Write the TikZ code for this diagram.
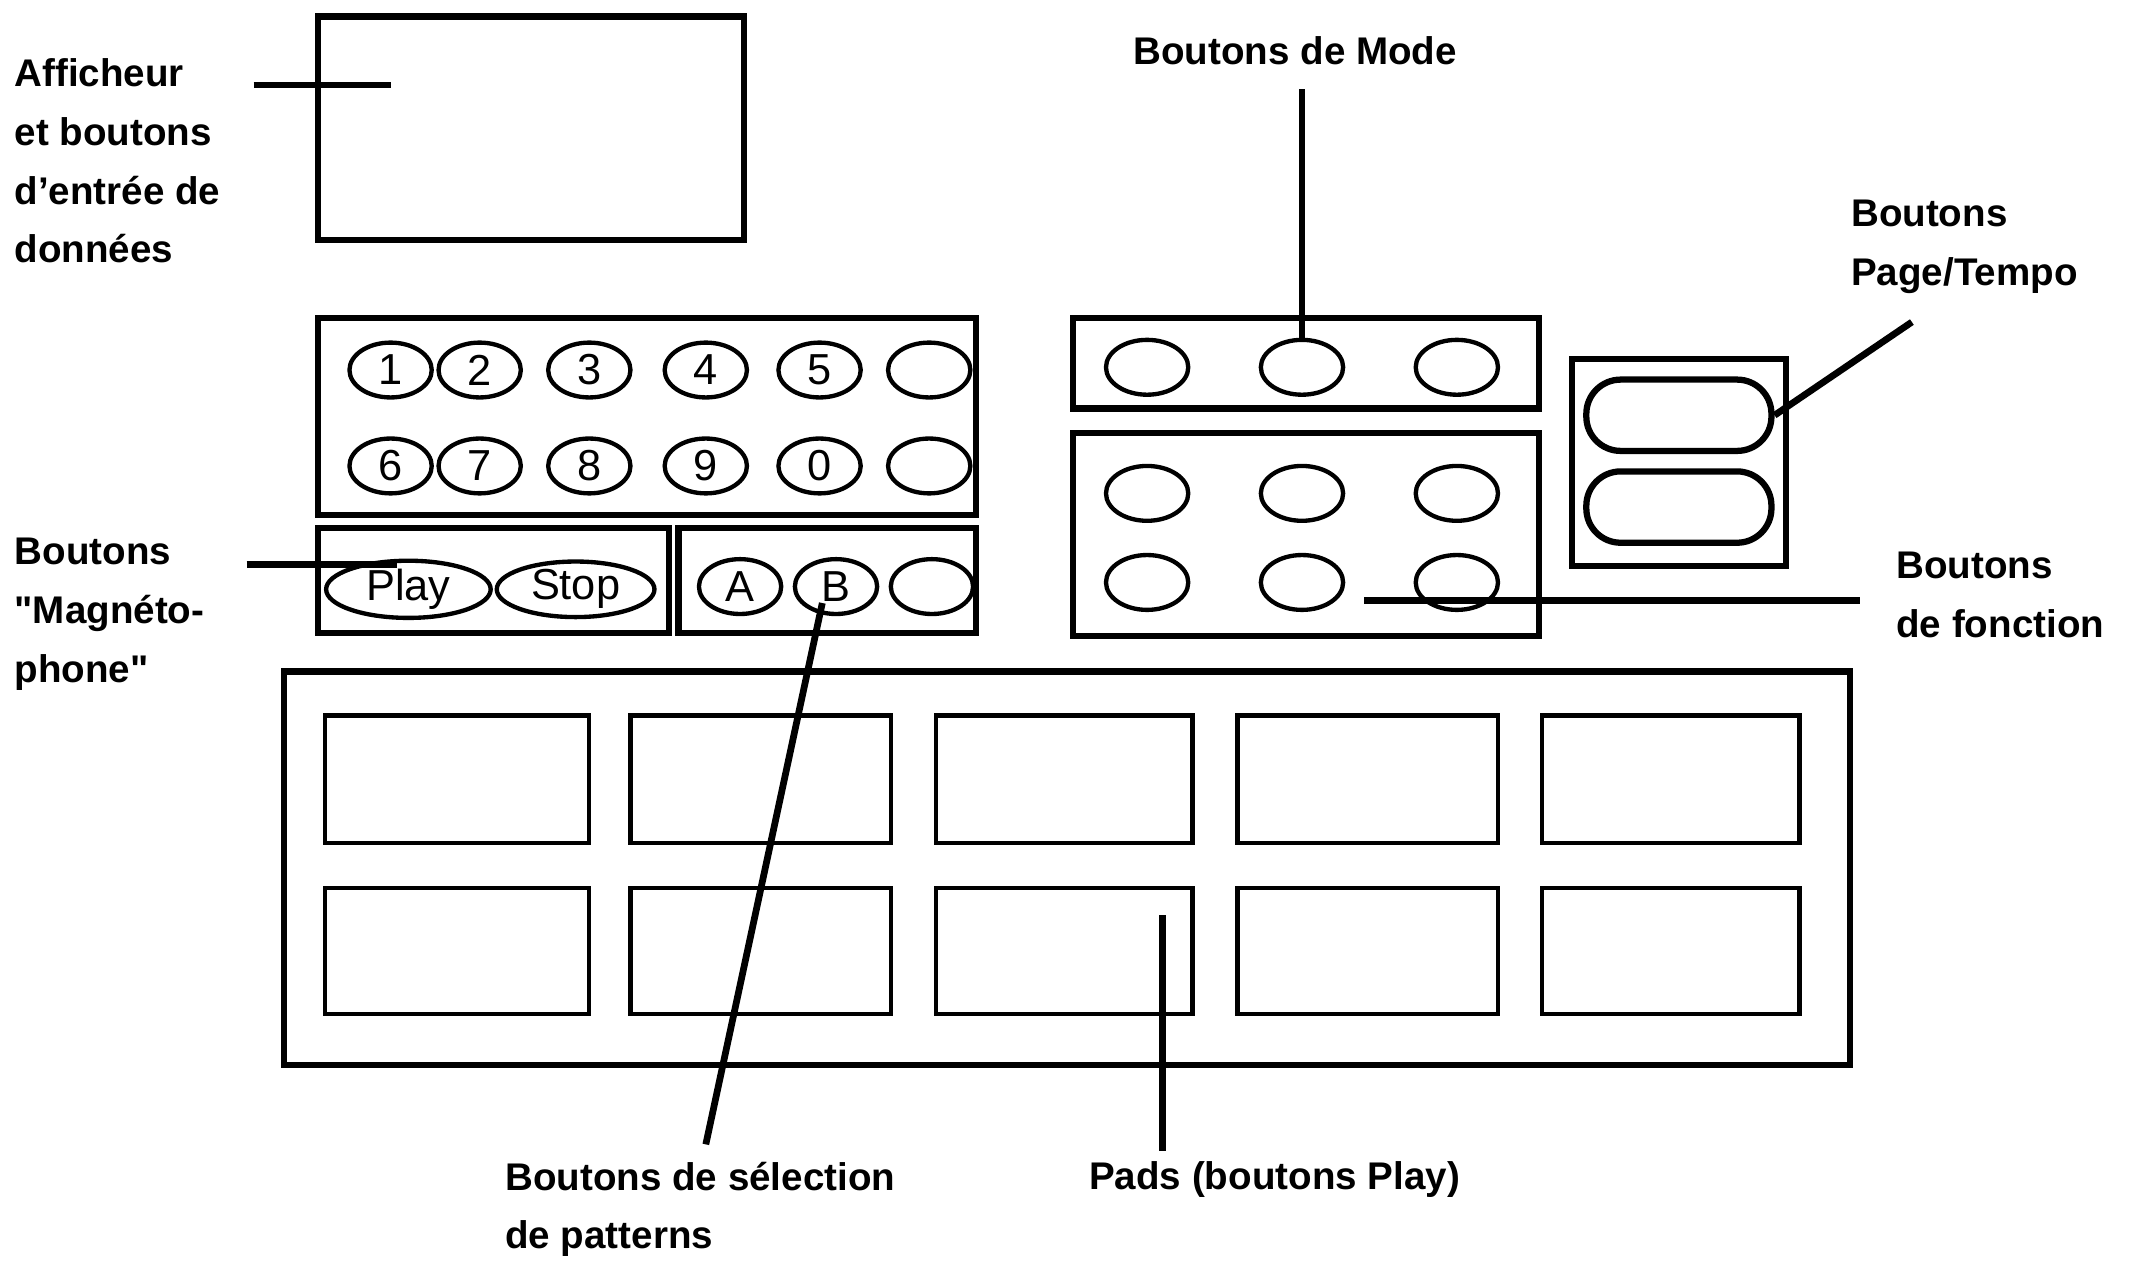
\documentclass[tikz,border=0pt]{standalone}
\usepackage{fontspec}
\setmainfont{Liberation Sans}
\newfontfamily\plainq{Liberation Sans}[Ligatures=TeXOff]
\newcommand{\sq}{{\plainq\bfseries"}}
\begin{document}
\begin{tikzpicture}[x=0.01cm,y=-0.01cm,
  box/.style={draw,line width=1.3pt},
  thin/.style={draw,line width=0.9pt},
  ov/.style={draw,line width=0.9pt,ellipse,inner sep=0pt,minimum width=#1,minimum height=0.4cm,font=\fontsize{9}{9}\selectfont},
  ov/.default=0.6cm,
  lead/.style={line width=1.4pt},
  lbl/.style={font=\bfseries\fontsize{8}{12.2}\selectfont,align=left,inner sep=0pt}]
\usetikzlibrary{shapes.geometric}
\useasboundingbox (0,0) rectangle (1560,931);
% display
\draw[box] (232,12) rectangle (543,175);
\node[lbl,anchor=north west] (aff) at (10,42) {Afficheur\\et boutons\\d'entrée de\\données};
\coordinate (affa) at (185,62); \coordinate (affb) at (285,62);
\draw[lead] (affa) -- (affb);
% keypad
\draw[box] (232,232) rectangle (712,376);
\foreach \x/\t [count=\i] in {285/1,350/2,430/3,515/4,598/5,678/{}} {
  \node[ov] (k\i) at (\x,270) {\t};}
\foreach \x/\t [count=\i] in {285/6,350/7,430/8,515/9,598/0,678/{}} {
  \node[ov] (l\i) at (\x,340) {\t};}
% play stop
\draw[box] (232,385) rectangle (488,462);
\node[ov=1.2cm] (play) at (298,430) {Play};
\node[ov=1.15cm] (stop) at (420,430) {Stop};
\draw[box] (495,385) rectangle (712,462);
\node[ov] (A) at (540,428) {A};
\node[ov] (B) at (610,428) {B};
\node[ov] (C) at (680,428) {};
\node[lbl,anchor=north west] (mag) at (10,392) {Boutons\\\sq Magnéto-\\phone\sq};
\coordinate (maga) at (180,412); \coordinate (magb) at (290,412);
\draw[lead] (maga) -- (magb);
% mode
\draw[box] (783,232) rectangle (1123,298);
\foreach \x [count=\i] in {837,950,1063} {\node[ov] (m\i) at (\x,268) {};}
\node[lbl,anchor=north] (mode) at (945,26) {Boutons de Mode};
\coordinate (modea) at (950,65);
\draw[lead] (modea) -- (m2.north);
% function
\draw[box] (783,316) rectangle (1123,464);
\foreach \x [count=\i] in {837,950,1063} {\node[ov] (f\i) at (\x,360) {}; \node[ov] (g\i) at (\x,425) {};}
\node[lbl,anchor=north west] (fon) at (1383,402) {Boutons\\de fonction};
\coordinate (fona) at (1357,438); \coordinate (fonb) at (995,438);
\draw[lead] (fona) -- (fonb);
% page tempo
\draw[box] (1147,262) rectangle (1303,413);
\node[draw,line width=1.3pt,rounded corners=0.25cm,minimum width=1.35cm,minimum height=0.52cm] (p1) at (1225,303) {};
\node[draw,line width=1.3pt,rounded corners=0.25cm,minimum width=1.35cm,minimum height=0.52cm] (p2) at (1225,370) {};
\node[lbl,anchor=north west] (pt) at (1350,145) {Boutons\\Page/Tempo};
\coordinate (pta) at (1395,235);
\draw[lead] (pta) -- (p1.east);
% pads
\draw[box] (207,490) rectangle (1350,777);
\foreach \a/\b [count=\i] in {237/430,460/650,683/870,903/1093,1125/1313} {
  \draw[thin] (\a,522) rectangle (\b,615);
  \draw[thin] (\a,648) rectangle (\b,740);
  \coordinate (pad\i) at ({(\a+\b)/2},694);}
\node[lbl,anchor=north] (padl) at (930,847) {Pads (boutons Play)};
\coordinate (padc) at (848,668);
\draw[lead] (padc) -- (848,840);
\node[lbl,anchor=north west] (pat) at (368,847) {Boutons de sélection\\de patterns};
\coordinate (pata) at (600,440); \coordinate (patb) at (515,835);
\draw[lead] (pata) -- (patb);
\end{tikzpicture}
\end{document}
